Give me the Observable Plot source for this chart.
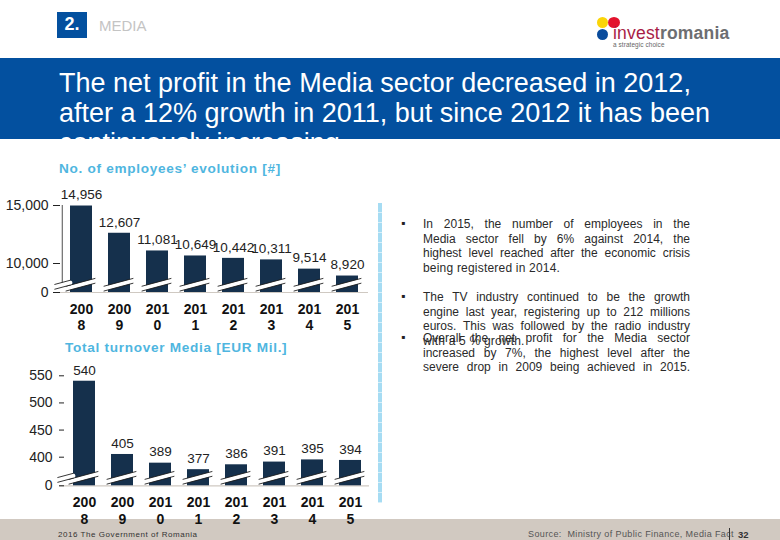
<!DOCTYPE html>
<html><head><meta charset="utf-8">
<script src="https://cdn.jsdelivr.net/npm/d3@7"></script>
<script src="https://cdn.jsdelivr.net/npm/@observablehq/plot@0.6"></script>
<style>
html,body{margin:0;padding:0;background:#fff;}
body{position:relative;width:780px;height:540px;overflow:hidden;font-family:"Liberation Sans",Arial,sans-serif;}
.abs{position:absolute;white-space:nowrap;}
#band{position:absolute;left:0;top:58px;width:780px;height:81px;background:#03509f;overflow:hidden;color:#fff;}
#band div{position:absolute;left:59px;font-size:27px;line-height:30px;white-space:nowrap;}
#footer{position:absolute;left:0;top:519px;width:780px;height:21px;background:#d1c9c1;}
.chart{position:absolute;left:0;}
.ctitle{position:absolute;color:#4fb6e0;font-weight:bold;font-size:13.6px;white-space:nowrap;letter-spacing:.7px;}
#sep{position:absolute;left:378px;top:203px;width:4px;height:300px;background:repeating-linear-gradient(to bottom,#a6dcf3 0,#a6dcf3 9px,#d9f0fa 9px,#d9f0fa 10px);}
.bl{position:absolute;font-size:12px;line-height:14.5px;color:#2a2a2a;left:423px;width:267px;}
.bl span{display:block;text-align:justify;text-align-last:justify;white-space:nowrap;}
.bl span.e{text-align-last:left;letter-spacing:.2px;}
.dot{position:absolute;left:401px;font-size:12px;color:#222;}
.blob{position:absolute;border-radius:50%;}
</style></head>
<body>
<div id="footer"></div>
<div class="abs" style="left:57px;top:12px;width:30px;height:26px;background:#03509f;color:#fff;font-weight:bold;font-size:18px;line-height:25px;text-align:center;">2.</div>
<div class="abs" style="left:99px;top:17px;font-size:15px;color:#c4c4c4;">MEDIA</div>

<div class="blob" style="left:597px;top:17px;width:11px;height:11px;background:#fbd508;"></div>
<div class="blob" style="left:608px;top:17px;width:12px;height:11px;background:#e3122d;"></div>
<div class="blob" style="left:597px;top:29px;width:11px;height:11px;background:#0a4c9c;"></div>
<div class="abs" style="left:613px;top:25px;font-size:17.5px;line-height:16px;font-weight:bold;letter-spacing:.2px;"><span style="color:#a81c46;font-weight:normal;">invest</span><span style="color:#6d6e71;">romania</span></div>
<div class="abs" style="left:613px;top:41px;font-size:6.4px;line-height:7px;color:#666;letter-spacing:.1px;">a strategic choice</div>

<div id="band">
<div style="top:10px;">The net profit in the Media sector decreased in 2012,</div>
<div style="top:40px;">after a 12% growth in 2011, but since 2012 it has been</div>
<div style="top:70px;">continuously increasing</div>
</div>

<div class="ctitle" style="left:59px;top:161px;">No. of employees’ evolution [#]</div>
<div class="ctitle" style="left:65px;top:340px;">Total turnover Media [EUR Mil.]</div>
<div id="sep"></div>

<div class="dot" style="top:216px;">▪</div>
<div class="bl" style="top:217px;"><span>In 2015, the number of employees in the</span><span>Media sector fell by 6% against 2014, the</span><span>highest level reached after the economic crisis</span><span class="e">being registered in 2014.</span></div>
<div class="dot" style="top:289px;">▪</div>
<div class="bl" style="top:290px;"><span>The TV industry continued to be the growth</span><span>engine last year, registering up to 212 millions</span><span>euros. This was followed by the radio industry</span><span class="e">with a 5 % growth.</span></div>
<div class="dot" style="top:330px;">▪</div>
<div class="bl" style="top:331px;"><span>Overall the net profit for the Media sector</span><span>increased by 7%, the highest level after the</span><span>severe drop in 2009 being achieved in 2015.</span></div>

<div id="c1" class="chart" style="top:155px;"></div>
<div id="c2" class="chart" style="top:345px;"></div>

<div class="abs" style="left:58px;top:530px;font-size:8px;color:#333;letter-spacing:.55px;">2016 The Government of Romania</div>
<div class="abs" style="left:528px;top:529px;font-size:9px;color:#555;letter-spacing:.38px;">Source:&nbsp; Ministry of Public Finance, Media Fact</div>
<div class="abs" style="left:729px;top:528px;width:1px;height:12px;background:#333;"></div>
<div class="abs" style="left:738px;top:529px;font-size:9.5px;font-weight:bold;color:#333;">32</div>

<script>
const years = ["2008","2009","2010","2011","2012","2013","2014","2015"];
const employees = [14956,12607,11081,10649,10442,10311,9514,8920];
const turnover = [540,405,389,377,386,391,395,394];
const employeeTicks = [0,10000,15000];
const turnoverTicks = [0,400,450,500,550];
const barColor = "#15304c", axisTan = "#cfc9c2", ink = "#222";

function chart(values, o){
  const rows = years.map((year,i)=>({year, value: values[i]}));
  const slash = {draw(c,l){c.moveTo(0,0);c.lineTo(0,-l);}};
  const breakMark = (data, len, extra={}) => [
    Plot.vector(data,{x:"year",y:()=>o.breakAt,length:len,rotate:75,anchor:"middle",shape:slash,stroke:"#fff",strokeWidth:4.4,...extra}),
    Plot.vector(data,{x:"year",y:()=>o.breakAt,length:len,rotate:75,anchor:"middle",shape:slash,stroke:"#1a1a1a",strokeWidth:0.8,dy:-2.4,...extra}),
    Plot.vector(data,{x:"year",y:()=>o.breakAt,length:len,rotate:75,anchor:"middle",shape:slash,stroke:"#1a1a1a",strokeWidth:0.8,dy:2.4,...extra})
  ];
  return Plot.plot({
    width:390, height:o.height,
    marginLeft:o.left, marginRight:390-o.right, marginTop:5, marginBottom:o.height-o.base,
    style:{background:"transparent",fontFamily:"Liberation Sans",fontSize:"14px",color:ink,overflow:"visible"},
    x:{type:"band",domain:years,paddingInner:0.43,paddingOuter:0.215,label:null},
    y:{type:"linear",domain:o.domain,range:o.range,label:null},
    marks:[
      Plot.ruleY([0],{stroke:axisTan,strokeWidth:1.2,insetLeft:o.ruleInset}),
      Plot.barY(rows,{x:"year",y:"value",fill:barColor}),
      ...(o.axisLine?[Plot.ruleX([years[0]],{y1:o.domain[1],y2:o.domain[2],dx:-19.25,stroke:ink,strokeWidth:0.8})]:[]),
      ...breakMark(rows,30,{dx:-1}),
      ...breakMark(rows.slice(0,1),16,{dx:-19}),
      Plot.text(rows,{x:"year",y:"value",text:d=>d3.format(",")(d.value),dy:-11,fontSize:13.5,fill:"#222"}),
      Plot.axisY({ticks:o.ticks,tickFormat:d3.format(","),tickSize:o.tickSize,tickPadding:o.tickPad,stroke:ink,tickWidth:0.8,label:null}),
      Plot.axisX({tickSize:0,tickPadding:o.xPad,tickFormat:d=>d.slice(0,3)+"\n"+d.slice(3),lineHeight:1.21,fontWeight:"bold",fill:"#111",label:null})
    ]
  });
}
document.getElementById("c1").append(chart(employees,{
  height:185, left:60, right:368, base:137,
  domain:[0,8000,15000], range:[137,131.2,50], breakAt:8170,
  ticks:employeeTicks, tickSize:7, tickPad:5, xPad:9, ruleInset:0, axisLine:true
}));
document.getElementById("c2").append(chart(turnover,{
  height:195, left:64, right:369, base:140.3,
  domain:[0,360,550], range:[140.3,133.4,30.3], breakAt:362,
  ticks:turnoverTicks, tickSize:5, tickPad:7, xPad:9, ruleInset:-5, axisLine:false
}));
</script>
</body></html>
